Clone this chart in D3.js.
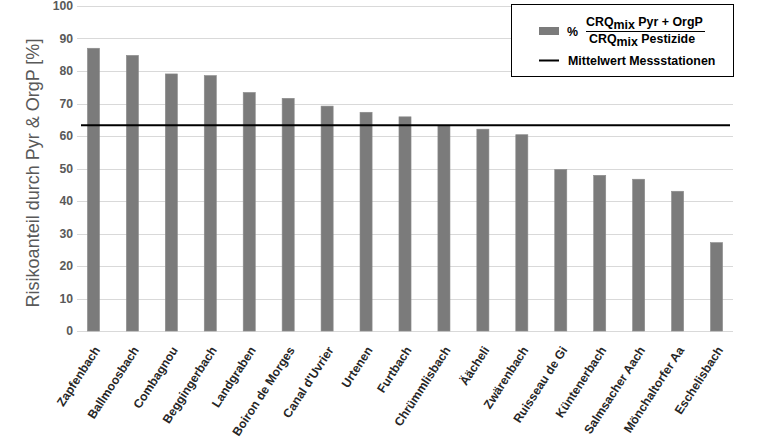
<!DOCTYPE html>
<html><head><meta charset="utf-8">
<script src="https://cdn.jsdelivr.net/npm/d3@7"></script>
<style>body{margin:0;background:#fff}svg{display:block}</style>
</head><body>
<svg id="c" width="760" height="440"></svg>
<script>
const categories = ["Zapfenbach","Ballmoosbach","Combagnou","Beggingerbach","Landgraben","Boiron de Morges","Canal d'Uvrier","Urtenen","Furtbach","Chrümmlisbach","Äächeli","Zwärenbach","Ruisseau de Gi","Küntenerbach","Salmsacher Aach","Mönchaltorfer Aa","Eschelisbach"];
const values = [87.0,84.8,79.1,78.6,73.4,71.6,69.2,67.3,65.9,63.1,62.1,60.4,49.7,47.9,46.7,43.0,27.2];
const meanValue = 63.3;
const yTicks = [0,10,20,30,40,50,60,70,80,90,100];
const yTitle = "Risikoanteil durch Pyr & OrgP [%]";
const legendLine = "Mittelwert Messstationen";

const svg = d3.select("#c");
const font = "'Liberation Sans', Arial, sans-serif";
const x = d3.scaleBand().domain(categories).range([74, 736]).paddingInner(0.69).paddingOuter(0.345);
const y = d3.scaleLinear().domain([0,100]).range([331, 6]);

// gridlines
svg.append("g").selectAll("line").data(yTicks).join("line")
  .attr("x1", 77).attr("x2", 733)
  .attr("y1", d => Math.round(y(d))+0.5).attr("y2", d => Math.round(y(d))+0.5)
  .attr("stroke", "#d9d9d9").attr("stroke-width", 1);

// y axis labels
const yAxis = svg.append("g").attr("transform","translate(73,0)")
  .call(d3.axisLeft(y).tickValues(yTicks).tickSize(0).tickPadding(0));
yAxis.select(".domain").remove();
yAxis.selectAll("text").attr("font-family", font).attr("font-weight","bold")
  .attr("font-size", 12.2).attr("fill", "#595959");

// bars
svg.append("g").selectAll("rect").data(values).join("rect")
  .attr("x", (d,i) => x(categories[i]))
  .attr("width", x.bandwidth())
  .attr("y", d => y(d))
  .attr("height", d => y(0) - y(d))
  .attr("fill", "#7b7b7b").attr("stroke","#8c8c8c").attr("stroke-width",0.6);

// mean line
svg.append("line").attr("x1", 81).attr("x2", 730)
  .attr("y1", y(meanValue)).attr("y2", y(meanValue))
  .attr("stroke", "#000").attr("stroke-width", 2);

// x labels
const xAxis = svg.append("g").attr("transform", `translate(0,${y(0)})`)
  .call(d3.axisBottom(x).tickSize(0).tickPadding(0));
xAxis.select(".domain").remove();
xAxis.selectAll("text")
  .attr("font-family", font).attr("font-weight","bold").attr("font-size",12.2).attr("fill","#262626")
  .attr("text-anchor","end").attr("dy", null).attr("y", 0)
  .attr("transform", "translate(7,19) rotate(-57)");

// y title
svg.append("text").attr("transform","translate(39,173) rotate(-90)")
  .attr("text-anchor","middle").attr("font-family", font).attr("font-size",18)
  .attr("fill","#595959").text(yTitle);

// legend
const fs = 12.4;
const lg = svg.append("g");
lg.append("rect").attr("x",511.5).attr("y",4.5).attr("width",222).attr("height",72)
  .attr("fill","#fff").attr("stroke","#000").attr("stroke-width",1);
lg.append("rect").attr("x",539).attr("y",27).attr("width",20).attr("height",8).attr("fill","#7b7b7b");
lg.append("text").attr("x",567).attr("y",36).attr("font-family",font).attr("font-weight","bold")
  .attr("font-size",fs).attr("fill","#000").text("%");
const num = lg.append("text").attr("x",586).attr("y",26).attr("font-family",font).attr("font-weight","bold")
  .attr("font-size",fs).attr("fill","#000");
num.append("tspan").text("CRQ");
num.append("tspan").attr("dy",3).text("mix");
num.append("tspan").attr("dy",-3).text(" Pyr + OrgP");
lg.append("line").attr("x1",586).attr("x2",705).attr("y1",31.5).attr("y2",31.5).attr("stroke","#000").attr("stroke-width",1);
const den = lg.append("text").attr("x",589).attr("y",43).attr("font-family",font).attr("font-weight","bold")
  .attr("font-size",fs).attr("fill","#000");
den.append("tspan").text("CRQ");
den.append("tspan").attr("dy",3).text("mix");
den.append("tspan").attr("dy",-3).text(" Pestizide");
lg.append("line").attr("x1",539).attr("x2",559).attr("y1",60.5).attr("y2",60.5).attr("stroke","#000").attr("stroke-width",2);
lg.append("text").attr("x",568).attr("y",64.5).attr("font-family",font).attr("font-weight","bold")
  .attr("font-size",fs).attr("fill","#000").text(legendLine);
</script>
</body></html>
